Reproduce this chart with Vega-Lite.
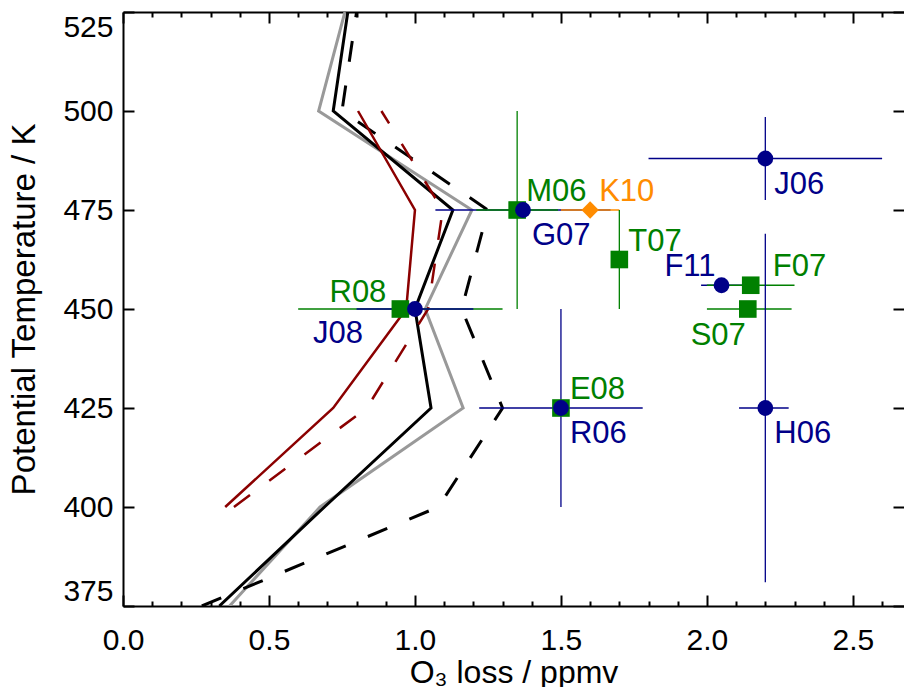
{
  "$schema": "https://vega.github.io/schema/vega-lite/v6.json",
  "width": 781,
  "height": 594,
  "autosize": {"type": "none"},
  "padding": {"left": 123, "top": 12, "right": 0, "bottom": 81},
  "config": {"view": {"stroke": null}, "font": "Liberation Sans"},
  "datasets": {
    "profiles": [
      {"series": "S1", "theta": 375, "loss": 0.365},
      {"series": "S1", "theta": 400, "loss": 0.675},
      {"series": "S1", "theta": 425, "loss": 1.165},
      {"series": "S1", "theta": 450, "loss": 1.035},
      {"series": "S1", "theta": 475, "loss": 1.195},
      {"series": "S1", "theta": 500, "loss": 0.67},
      {"series": "S1", "theta": 525, "loss": 0.76},
      {"series": "S2", "theta": 375, "loss": 0.33},
      {"series": "S2", "theta": 400, "loss": 0.69},
      {"series": "S2", "theta": 425, "loss": 1.055},
      {"series": "S2", "theta": 450, "loss": 1.0},
      {"series": "S2", "theta": 475, "loss": 1.13},
      {"series": "S2", "theta": 500, "loss": 0.72},
      {"series": "S2", "theta": 525, "loss": 0.77},
      {"series": "S3", "theta": 375, "loss": 0.27},
      {"series": "S3", "theta": 400, "loss": 1.08},
      {"series": "S3", "theta": 425, "loss": 1.30},
      {"series": "S3", "theta": 450, "loss": 1.16},
      {"series": "S3", "theta": 475, "loss": 1.25},
      {"series": "S3", "theta": 500, "loss": 0.75},
      {"series": "S3", "theta": 525, "loss": 0.80},
      {"series": "S4", "theta": 400, "loss": 0.35},
      {"series": "S4", "theta": 425, "loss": 0.72},
      {"series": "S4", "theta": 450, "loss": 0.97},
      {"series": "S4", "theta": 475, "loss": 1.0},
      {"series": "S4", "theta": 500, "loss": 0.805},
      {"series": "S5", "theta": 400, "loss": 0.38},
      {"series": "S5", "theta": 425, "loss": 0.835},
      {"series": "S5", "theta": 450, "loss": 1.045},
      {"series": "S5", "theta": 475, "loss": 1.095},
      {"series": "S5", "theta": 500, "loss": 0.885}
    ],
    "obs": [
      {"label": "R08", "kind": "square", "x": 0.95, "y": 450, "xlo": 0.6, "xhi": 1.3},
      {"label": "J08", "kind": "circle", "x": 1.0, "y": 450, "xlo": 0.8, "xhi": 1.2},
      {"label": "G07", "kind": "circle", "x": 1.37, "y": 475, "xlo": 1.07, "xhi": 1.67},
      {"label": "M06", "kind": "square", "x": 1.35, "y": 475, "xlo": 1.21, "xhi": 1.49, "ylo": 450, "yhi": 500},
      {"label": "K10", "kind": "diamond", "x": 1.6, "y": 475, "xlo": 1.5, "xhi": 1.7},
      {"label": "T07", "kind": "square", "x": 1.7, "y": 462.5, "ylo": 450, "yhi": 475},
      {"label": "E08", "kind": "square", "x": 1.5, "y": 425},
      {"label": "R06", "kind": "circle", "x": 1.5, "y": 425, "xlo": 1.22, "xhi": 1.78, "ylo": 400, "yhi": 450},
      {"label": "F11", "kind": "circle", "x": 2.05, "y": 456, "xlo": 1.98, "xhi": 2.13},
      {"label": "F07", "kind": "square", "x": 2.15, "y": 456, "xlo": 2.0, "xhi": 2.3},
      {"label": "S07", "kind": "square", "x": 2.14, "y": 450, "xlo": 2.0, "xhi": 2.29},
      {"label": "J06", "kind": "circle", "x": 2.2, "y": 488, "xlo": 1.8, "xhi": 2.6, "ylo": 477.5, "yhi": 498.5},
      {"label": "H06", "kind": "circle", "x": 2.2, "y": 425, "xlo": 2.11, "xhi": 2.28, "ylo": 381, "yhi": 469}
    ]
  },
  "resolve": {"axis": {"x": "independent", "y": "independent"}},
  "layer": [
    {
      "data": {"name": "profiles"},
      "transform": [{"filter": "datum.series === 'S1'"}],
      "mark": {"type": "line", "stroke": "#999999", "strokeWidth": 3, "clip": true},
      "encoding": {
        "x": {"field": "loss", "type": "quantitative", "scale": {"domain": [0, 2.675], "nice": false, "zero": false},
          "axis": {"orient": "bottom", "values": [0, 0.5, 1, 1.5, 2, 2.5], "format": ".1f", "tickSize": -11, "tickWidth": 2, "tickColor": "black", "domainColor": "black", "domainWidth": 2, "labelFontSize": 30, "labelFont": "Liberation Sans", "labelColor": "black", "labelPadding": 30, "labelFlush": false, "labelOverlap": false, "grid": false, "title": "O₃ loss / ppmv", "titleFontSize": 32, "titleFont": "Liberation Sans", "titleFontWeight": "normal", "titleColor": "black", "titlePadding": 2}},
        "y": {"field": "theta", "type": "quantitative", "scale": {"domain": [375, 525], "nice": false, "zero": false},
          "axis": {"orient": "left", "values": [375, 400, 425, 450, 475, 500, 525], "tickSize": -11, "tickWidth": 2, "tickColor": "black", "domainColor": "black", "domainWidth": 2, "labelFontSize": 30, "labelFont": "Liberation Sans", "labelColor": "black", "labelPadding": 21, "labelFlush": true, "grid": false, "title": "Potential Temperature / K", "titleFontSize": 33, "titleFont": "Liberation Sans", "titleFontWeight": "normal", "titleColor": "black", "titlePadding": 21}},
        "order": {"field": "theta", "type": "quantitative"}
      }
    },
    {
      "data": {"name": "profiles"},
      "transform": [{"filter": "datum.series === 'S2'"}],
      "mark": {"type": "line", "stroke": "black", "strokeWidth": 3, "clip": true},
      "encoding": {
        "x": {"field": "loss", "type": "quantitative", "scale": {"domain": [0, 2.675], "nice": false, "zero": false},
          "axis": {"orient": "top", "values": [0, 0.5, 1, 1.5, 2, 2.5], "tickSize": -11, "tickWidth": 2, "tickColor": "black", "domainColor": "black", "domainWidth": 2, "labels": false, "grid": false, "title": null}},
        "y": {"field": "theta", "type": "quantitative", "scale": {"domain": [375, 525], "nice": false, "zero": false},
          "axis": {"orient": "right", "values": [375, 400, 425, 450, 475, 500, 525], "tickSize": -11, "tickWidth": 2, "tickColor": "black", "domain": false, "labels": false, "grid": false, "title": null}},
        "order": {"field": "theta", "type": "quantitative"}
      }
    },
    {
      "data": {"name": "profiles"},
      "transform": [{"filter": "datum.series === 'S3'"}],
      "mark": {"type": "line", "stroke": "black", "strokeWidth": 3, "strokeDash": [21, 24], "clip": true},
      "encoding": {
        "x": {"field": "loss", "type": "quantitative", "axis": null},
        "y": {"field": "theta", "type": "quantitative", "axis": null},
        "order": {"field": "theta", "type": "quantitative"}
      }
    },
    {
      "data": {"name": "profiles"},
      "transform": [{"filter": "datum.series === 'S4'"}],
      "mark": {"type": "line", "stroke": "#8B0000", "strokeWidth": 2.5, "clip": true},
      "encoding": {
        "x": {"field": "loss", "type": "quantitative", "axis": null},
        "y": {"field": "theta", "type": "quantitative", "axis": null},
        "order": {"field": "theta", "type": "quantitative"}
      }
    },
    {
      "data": {"name": "profiles"},
      "transform": [{"filter": "datum.series === 'S5'"}],
      "mark": {"type": "line", "stroke": "#8B0000", "strokeWidth": 2.5, "strokeDash": [20, 24], "clip": true},
      "encoding": {
        "x": {"field": "loss", "type": "quantitative", "axis": null},
        "y": {"field": "theta", "type": "quantitative", "axis": null},
        "order": {"field": "theta", "type": "quantitative"}
      }
    },
    {
      "data": {"name": "obs"},
      "transform": [{"filter": "isValid(datum.xlo)"}],
      "mark": {"type": "rule", "strokeWidth": 1.3},
      "encoding": {
        "x": {"field": "xlo", "type": "quantitative",
          "axis": {"orient": "bottom", "values": [0.1, 0.2, 0.3, 0.4, 0.6, 0.7, 0.8, 0.9, 1.1, 1.2, 1.3, 1.4, 1.6, 1.7, 1.8, 1.9, 2.1, 2.2, 2.3, 2.4, 2.6], "tickSize": -5, "tickWidth": 2, "tickColor": "black", "domain": false, "labels": false, "grid": false, "title": null}},
        "x2": {"field": "xhi"},
        "y": {"field": "y", "type": "quantitative", "axis": null},
        "color": {"field": "kind", "type": "nominal", "scale": {"domain": ["square", "circle", "diamond"], "range": ["#008000", "#000088", "#FF8C00"]}, "legend": null}
      }
    },
    {
      "data": {"name": "obs"},
      "transform": [{"filter": "isValid(datum.ylo)"}],
      "mark": {"type": "rule", "strokeWidth": 1.3},
      "encoding": {
        "x": {"field": "x", "type": "quantitative",
          "axis": {"orient": "top", "values": [0.1, 0.2, 0.3, 0.4, 0.6, 0.7, 0.8, 0.9, 1.1, 1.2, 1.3, 1.4, 1.6, 1.7, 1.8, 1.9, 2.1, 2.2, 2.3, 2.4, 2.6], "tickSize": -5, "tickWidth": 2, "tickColor": "black", "domain": false, "labels": false, "grid": false, "title": null}},
        "y": {"field": "ylo", "type": "quantitative", "axis": null},
        "y2": {"field": "yhi"},
        "color": {"field": "kind", "type": "nominal", "legend": null}
      }
    },
    {
      "data": {"name": "obs"},
      "transform": [{"filter": "datum.kind === 'square'"}],
      "mark": {"type": "point", "shape": "square", "filled": true, "opacity": 1, "size": 310, "color": "#008000"},
      "encoding": {
        "x": {"field": "x", "type": "quantitative", "axis": null},
        "y": {"field": "y", "type": "quantitative", "axis": null}
      }
    },
    {
      "data": {"name": "obs"},
      "transform": [{"filter": "datum.kind === 'circle'"}],
      "mark": {"type": "point", "shape": "circle", "filled": true, "opacity": 1, "size": 250, "color": "#000088"},
      "encoding": {
        "x": {"field": "x", "type": "quantitative", "axis": null},
        "y": {"field": "y", "type": "quantitative", "axis": null}
      }
    },
    {
      "data": {"name": "obs"},
      "transform": [{"filter": "datum.kind === 'diamond'"}],
      "mark": {"type": "point", "shape": "diamond", "filled": true, "opacity": 1, "size": 300, "color": "#FF8C00"},
      "encoding": {
        "x": {"field": "x", "type": "quantitative", "axis": null},
        "y": {"field": "y", "type": "quantitative", "axis": null}
      }
    },
    {
      "data": {"name": "obs"},
      "transform": [{"filter": {"field": "label", "oneOf": ["J06", "G07", "R06", "H06"]}}],
      "mark": {"type": "text", "align": "left", "baseline": "middle", "dx": 9, "dy": 26, "fontSize": 31, "font": "Liberation Sans"},
      "encoding": {
        "x": {"field": "x", "type": "quantitative", "axis": null},
        "y": {"field": "y", "type": "quantitative", "axis": null},
        "text": {"field": "label"},
        "color": {"field": "kind", "type": "nominal", "legend": null}
      }
    },
    {
      "data": {"name": "obs"},
      "transform": [{"filter": {"field": "label", "oneOf": ["M06", "K10", "T07", "E08"]}}],
      "mark": {"type": "text", "align": "left", "baseline": "middle", "dx": 9, "dy": -18, "fontSize": 31, "font": "Liberation Sans"},
      "encoding": {
        "x": {"field": "x", "type": "quantitative", "axis": null},
        "y": {"field": "y", "type": "quantitative", "axis": null},
        "text": {"field": "label"},
        "color": {"field": "kind", "type": "nominal", "legend": null}
      }
    },
    {
      "data": {"name": "obs"},
      "transform": [{"filter": {"field": "label", "oneOf": ["F07"]}}],
      "mark": {"type": "text", "align": "left", "baseline": "middle", "dx": 22, "dy": -18, "fontSize": 31, "font": "Liberation Sans"},
      "encoding": {
        "x": {"field": "x", "type": "quantitative", "axis": null},
        "y": {"field": "y", "type": "quantitative", "axis": null},
        "text": {"field": "label"},
        "color": {"field": "kind", "type": "nominal", "legend": null}
      }
    },
    {
      "data": {"name": "obs"},
      "transform": [{"filter": {"field": "label", "oneOf": ["F11"]}}],
      "mark": {"type": "text", "align": "right", "baseline": "middle", "dx": -6, "dy": -18, "fontSize": 31, "font": "Liberation Sans"},
      "encoding": {
        "x": {"field": "x", "type": "quantitative", "axis": null},
        "y": {"field": "y", "type": "quantitative", "axis": null},
        "text": {"field": "label"},
        "color": {"field": "kind", "type": "nominal", "legend": null}
      }
    },
    {
      "data": {"name": "obs"},
      "transform": [{"filter": {"field": "label", "oneOf": ["R08"]}}],
      "mark": {"type": "text", "align": "right", "baseline": "middle", "dx": -14, "dy": -16, "fontSize": 31, "font": "Liberation Sans"},
      "encoding": {
        "x": {"field": "x", "type": "quantitative", "axis": null},
        "y": {"field": "y", "type": "quantitative", "axis": null},
        "text": {"field": "label"},
        "color": {"field": "kind", "type": "nominal", "legend": null}
      }
    },
    {
      "data": {"name": "obs"},
      "transform": [{"filter": {"field": "label", "oneOf": ["S07"]}}],
      "mark": {"type": "text", "align": "right", "baseline": "middle", "dx": -2, "dy": 27, "fontSize": 31, "font": "Liberation Sans"},
      "encoding": {
        "x": {"field": "x", "type": "quantitative", "axis": null},
        "y": {"field": "y", "type": "quantitative", "axis": null},
        "text": {"field": "label"},
        "color": {"field": "kind", "type": "nominal", "legend": null}
      }
    },
    {
      "data": {"name": "obs"},
      "transform": [{"filter": {"field": "label", "oneOf": ["J08"]}}],
      "mark": {"type": "text", "align": "right", "baseline": "middle", "dx": -52, "dy": 25, "fontSize": 31, "font": "Liberation Sans"},
      "encoding": {
        "x": {"field": "x", "type": "quantitative", "axis": null},
        "y": {"field": "y", "type": "quantitative", "axis": null},
        "text": {"field": "label"},
        "color": {"field": "kind", "type": "nominal", "legend": null}
      }
    }
  ]
}
